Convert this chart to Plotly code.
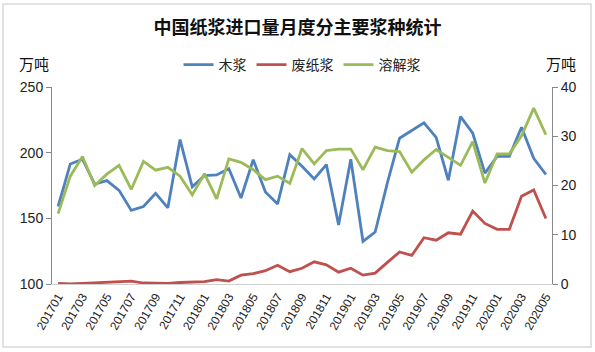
import plotly.graph_objects as go

months = [f"{y}{m:02d}" for y in range(2017, 2021) for m in range(1, 13)][:41]

wood = [159, 191.4, 195, 176, 178.7, 171.3, 156, 159, 169, 158, 210, 174,
        182.5, 183, 187.8, 165.5, 194.7, 170, 161, 198.5, 189.6, 180, 190.9, 145, 195,
        132.5, 139.6, 177, 211, 216.6, 222.7, 211.7, 179, 227.5, 214.8, 184.4, 197.2,
        197.2, 219.4, 195.7, 183.4]
waste = [0.1, 0.0, 0.1, 0.2, 0.3, 0.4, 0.6, 0.2, 0.1, 0.1, 0.3, 0.4,
         0.5, 0.9, 0.6, 1.8, 2.1, 2.7, 3.8, 2.5, 3.2, 4.5, 3.9, 2.4, 3.2,
         1.8, 2.2, 4.4, 6.5, 5.8, 9.4, 8.9, 10.4, 10.1, 14.8, 12.3, 11.1,
         11.1, 17.8, 19.1, 13.3]
dissolving = [14.3, 21.9, 25.9, 20.0, 22.3, 24.1, 19.2, 24.9, 23.1, 23.7, 21.9, 18.1,
              22.4, 17.3, 25.4, 24.7, 23.2, 21.2, 21.9, 20.4, 27.5, 24.4, 27.1, 27.4, 27.4,
              23.2, 27.8, 27.1, 26.9, 22.7, 25.2, 27.3, 25.7, 24.1, 28.9, 20.5, 26.4,
              26.4, 30.1, 35.7, 30.3]

tick_labels = months[::2]

fig = go.Figure()
fig.add_trace(go.Scatter(x=months, y=wood, name="木浆", mode="lines",
                         line=dict(color="#4F81BD", width=2.8), yaxis="y"))
fig.add_trace(go.Scatter(x=months, y=waste, name="废纸浆", mode="lines",
                         line=dict(color="#C0504D", width=2.8), yaxis="y2"))
fig.add_trace(go.Scatter(x=months, y=dissolving, name="溶解浆", mode="lines",
                         line=dict(color="#9BBB59", width=2.8), yaxis="y2"))

fig.update_layout(
    width=595, height=352,
    margin=dict(l=52, r=43, t=87, b=68),
    paper_bgcolor="white", plot_bgcolor="white",
    font=dict(family="Liberation Sans, Arial, Noto Sans CJK SC", color="#222"),
    title=dict(text="<b>中国纸浆进口量月度分主要浆种统计</b>",
               font=dict(family="Noto Sans CJK SC", size=18, color="#111"),
               x=0.5, xanchor="center", y=1 - 28 / 352, yanchor="middle"),
    xaxis=dict(type="category", tickmode="array", tickvals=tick_labels, ticktext=tick_labels,
               tickangle=-60, tickfont=dict(size=12), showgrid=False,
               showline=True, linecolor="#d0d0d0", ticks="",
               range=[-0.5, 40.5]),
    yaxis=dict(range=[100, 250], tickvals=[100, 150, 200, 250], showgrid=False,
               showline=True, linecolor="#888", ticks="outside", ticklen=5,
               tickcolor="#888", tickfont=dict(size=14)),
    yaxis2=dict(range=[0, 40], tickvals=[0, 10, 20, 30, 40], overlaying="y", side="right",
                showgrid=False, showline=True, linecolor="#888", ticks="outside",
                ticklen=5, tickcolor="#888", tickfont=dict(size=14)),
    legend=dict(orientation="h", x=0.5, xanchor="center", y=(284 - 65) / 197, yanchor="middle",
                font=dict(family="Noto Sans CJK SC", size=14), itemwidth=30,
                bgcolor="rgba(0,0,0,0)"),
    showlegend=True,
    annotations=[
        dict(text="万吨", xref="paper", yref="paper", x=(34 - 52) / 500, y=(284 - 63) / 197,
             xanchor="center", yanchor="middle",
             showarrow=False, font=dict(family="Noto Sans CJK SC", size=15, color="#111")),
        dict(text="万吨", xref="paper", yref="paper", x=(561 - 52) / 500, y=(284 - 63) / 197,
             xanchor="center", yanchor="middle",
             showarrow=False, font=dict(family="Noto Sans CJK SC", size=15, color="#111")),
    ],
    shapes=[dict(type="rect", xref="paper", yref="paper",
                 x0=(3 - 52) / 500, x1=(591 - 52) / 500,
                 y0=(284 - 347) / 197, y1=(284 - 4) / 197,
                 line=dict(color="#d9d9d9", width=1.5))],
)

fig.write_html("out.html")
